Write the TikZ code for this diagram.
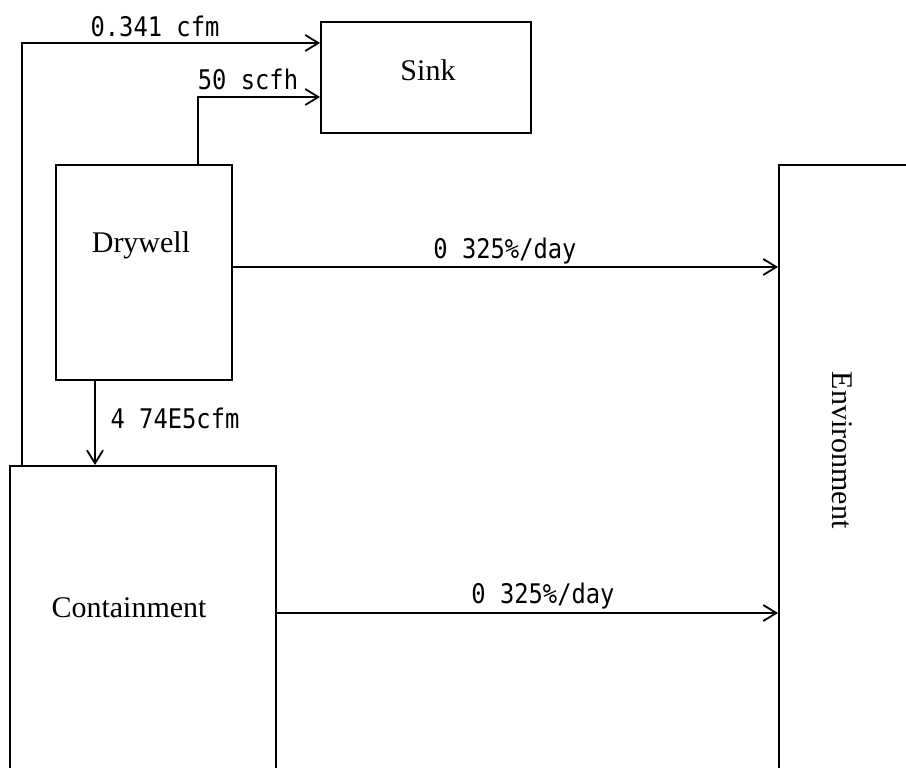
\documentclass[tikz,border=0pt]{standalone}
\usepackage{fontspec}
\setmainfont{Liberation Serif}
\newfontfamily\flowfont[FakeStretch=0.88]{DejaVu Sans Mono}
\usetikzlibrary{arrows.meta,positioning}

\begin{document}
\begin{tikzpicture}[
            x=1pt,y=-1pt,
            box/.style={draw, line width=2pt, rectangle, inner sep=0pt},
            boxtext/.style={font=\fontsize{30}{34}\selectfont},
            flow/.style={line width=1.8pt,
                -{Straight Barb[length=13pt,width=16pt,line width=1.8pt]}},
            flowtext/.style={font=\flowfont\fontsize{27}{31}\selectfont, inner sep=0pt}]

        \useasboundingbox (0,0) rectangle (906,768);
        \clip (0,0) rectangle (906,768);

        % compartments
        \node[box, minimum width=210pt, minimum height=111pt] (sink) at (426,77.5) {};
        \node[box, minimum width=176pt, minimum height=215pt] (drywell) at (144,272.5) {};
        \node[box, minimum width=266pt, minimum height=334pt] (containment) at (143,633) {};
        \node[box, minimum width=151pt, minimum height=635pt] (environment) at (854.5,482.5) {};

        \node[boxtext] (sinktxt) at (428,70) {Sink};
        \node[boxtext] (drywelltxt) at (141,245) {Drywell};
        \node[boxtext] (containmenttxt) at (129,608) {Containment};
        \node[boxtext, rotate=-90] (environmenttxt) at (842,450) {Environment};

        % flows
        \draw[flow] ([xshift=-121pt]containment.north) |- ([yshift=34.5pt]sink.west);
        \draw[flow] ([xshift=54pt]drywell.north) |- ([yshift=-19.5pt]sink.west);
        \draw[flow] ([yshift=5.5pt]drywell.east) -- ([yshift=5.5pt]drywell.east -| environment.west);
        \draw[flow] ([xshift=-49pt]drywell.south) -- ([xshift=-49pt]drywell.south |- containment.north);
        \draw[flow] ([yshift=20pt]containment.east) -- ([yshift=20pt]containment.east -| environment.west);

        \node[flowtext] (cfmtxt) at (155,26) {0.341 cfm};
        \node[flowtext] (scfhtxt) at (248,79) {50 scfh};
        \node[flowtext] (drytxt) at (505,251) {0 325\%/day};
        \node[flowtext] (downtxt) at (175,418) {4 74E5cfm};
        \node[flowtext] (contxt) at (543,596) {0 325\%/day};
    \end{tikzpicture}
\end{document}
